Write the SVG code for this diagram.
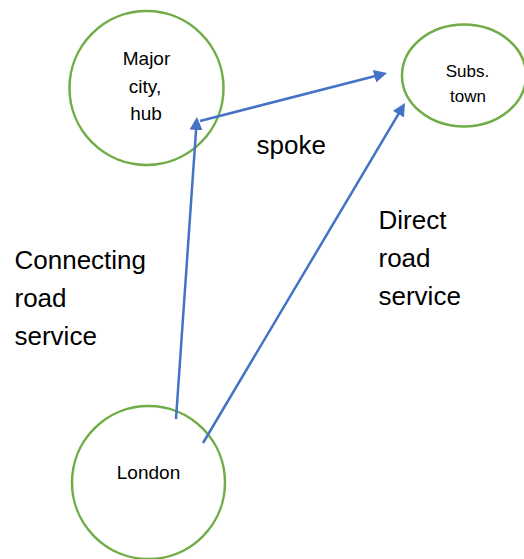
<svg xmlns="http://www.w3.org/2000/svg" width="524" height="559" viewBox="0 0 524 559">
  <style>
    .node { fill: #ffffff; stroke: #70AD47; stroke-width: 2.5; }
    .edge { fill: none; stroke: #4472C4; stroke-width: 2.5; marker-end: url(#arrow); }
    .lbl { font-family: "Liberation Sans", Arial, sans-serif; fill: #000000; }
    .small { font-size: 19px; text-anchor: middle; }
    .tiny { font-size: 17px; text-anchor: middle; }
    .big { font-size: 26px; }
  </style>
  <defs>
    <marker id="arrow" markerUnits="userSpaceOnUse" markerWidth="13" markerHeight="13" refX="5" refY="6.5" orient="auto">
      <path d="M0,0 L13,6.5 L0,13 z" fill="#4472C4"/>
    </marker>
  </defs>

  <rect width="524" height="559" fill="#ffffff"/>

  <g id="hub">
    <circle class="node" cx="146.5" cy="88" r="77"/>
    <text class="lbl small" x="146.5" y="65">Major</text>
    <text class="lbl small" x="145" y="93">city,</text>
    <text class="lbl small" x="146" y="120">hub</text>
  </g>

  <g id="subs-town">
    <ellipse class="node" cx="464" cy="75.5" rx="62" ry="51"/>
    <text class="lbl tiny" x="467.5" y="76.5">Subs.</text>
    <text class="lbl tiny" x="468" y="101.5">town</text>
  </g>

  <g id="london">
    <circle class="node" cx="148.5" cy="482.5" r="76.5"/>
    <text class="lbl small" x="148.5" y="479">London</text>
  </g>

  <g id="connectors">
    <line class="edge" x1="176" y1="419" x2="196.4" y2="125"/>
    <line class="edge" x1="200" y1="121" x2="379.3" y2="75"/>
    <line class="edge" x1="203" y1="443" x2="400.9" y2="109.9"/>
  </g>

  <g id="labels">
    <text class="lbl big" x="256.5" y="153.5">spoke</text>
    <text class="lbl big" x="14.5" y="268.5">Connecting</text>
    <text class="lbl big" x="14.5" y="306.5">road</text>
    <text class="lbl big" x="14.5" y="344.5">service</text>
    <text class="lbl big" x="378.5" y="229">Direct</text>
    <text class="lbl big" x="378.5" y="267">road</text>
    <text class="lbl big" x="378.5" y="305">service</text>
  </g>
</svg>
